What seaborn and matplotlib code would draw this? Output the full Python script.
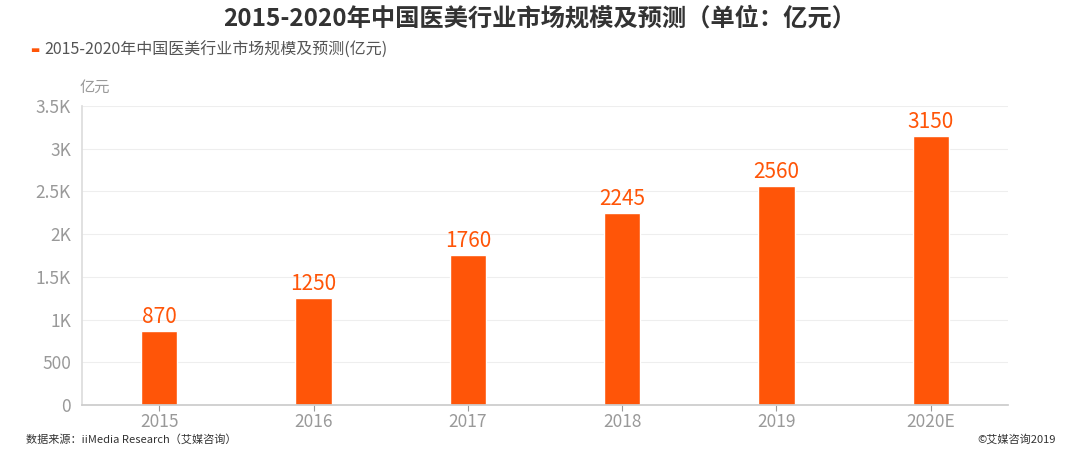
import matplotlib
matplotlib.use("Agg")
import matplotlib.pyplot as plt
import seaborn as sns
import pandas as pd

years = ["2015", "2016", "2017", "2018", "2019", "2020E"]
values = [870, 1250, 1760, 2245, 2560, 3150]
yticks = [0, 500, 1000, 1500, 2000, 2500, 3000, 3500]
ytick_labels = ["0", "500", "1K", "1.5K", "2K", "2.5K", "3K", "3.5K"]

sns.set_theme(style="white")
plt.rcParams['font.family'] = ['Noto Sans CJK SC', 'DejaVu Sans']

df = pd.DataFrame({"year": years, "value": values})
bar_color = "#FF5508"

fig = plt.figure(figsize=(10.8, 4.58), dpi=100)
ax = fig.add_axes([82/1080, 1-405/458, (1008-82)/1080, (405-106)/458])
sns.barplot(data=df, x="year", y="value", color=bar_color, width=0.235,
            saturation=1, ax=ax)

ax.set_xlim(-0.5, 5.5)
ax.set_ylim(0, 3500)
ax.set_yticks(yticks)
ax.set_yticklabels(ytick_labels)
ax.set_xlabel("")
ax.set_ylabel("")
ax.grid(axis="y", color="#EEEEEE", linewidth=0.8)
ax.set_axisbelow(True)
for s in ["top", "right"]:
    ax.spines[s].set_visible(False)
ax.spines["left"].set_color("#DDDDDD")
ax.spines["bottom"].set_color("#CCCCCC")
ax.tick_params(axis="y", colors="#999999", labelsize=12.5, length=0, pad=8)
ax.tick_params(axis="x", colors="#999999", labelsize=12.5, length=4, width=0.8,
               direction="out", pad=2, bottom=True)
for lbl in ax.get_xticklabels() + ax.get_yticklabels():
    lbl.set_color("#999999")

for i, v in enumerate(values):
    ax.text(i, v + 35, str(v), ha="center", va="bottom", color=bar_color,
            fontsize=15)

fig.text(0.5, 1-18/458, "2015-2020年中国医美行业市场规模及预测（单位：亿元）",
         ha="center", va="center", fontsize=17.5, fontweight="bold", color="#333333")
fig.text(30/1080, 1-50/458, "▬", ha="left", va="center", fontsize=7,
         color=bar_color, family=['DejaVu Sans'])
fig.text(44/1080, 1-50/458, "2015-2020年中国医美行业市场规模及预测(亿元)",
         ha="left", va="center", fontsize=11.5, color="#555555")
fig.text(80/1080, 1-87/458, "亿元", ha="left", va="center", fontsize=11,
         color="#999999")
fig.text(26/1080, 1-439/458, "数据来源：iiMedia Research（艾媒咨询）",
         ha="left", va="center", fontsize=8, color="#333333")
fig.text(1056/1080, 1-439/458, "©艾媒咨询2019",
         ha="right", va="center", fontsize=8, color="#333333")

fig.savefig("out.png", dpi=100)
